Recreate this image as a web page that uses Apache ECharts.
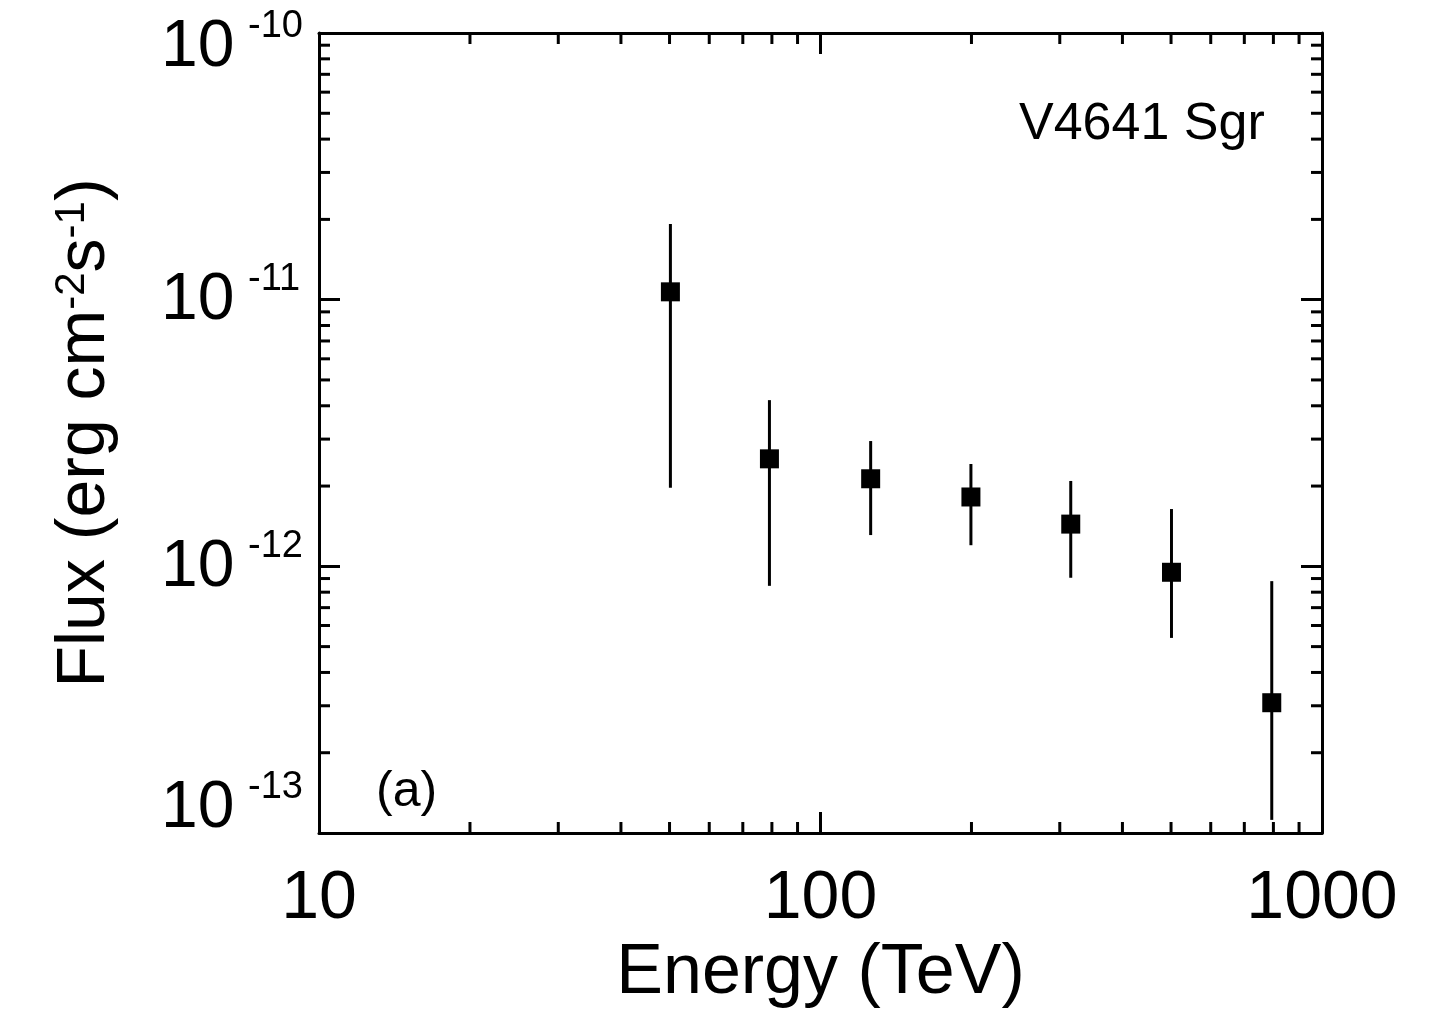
<!DOCTYPE html>
<html>
<head>
<meta charset="utf-8">
<script src="https://cdn.jsdelivr.net/npm/echarts@6/dist/echarts.min.js"></script>
<style>
  html, body { margin: 0; padding: 0; background: #fff; }
  #chart { width: 1450px; height: 1014px; }
</style>
</head>
<body>
<div id="chart"></div>
<script>
// V4641 Sgr spectrum points (energy in TeV, flux in erg cm^-2 s^-1)
var energy   = [50.2, 79.1, 125.9, 199.5, 315.5, 501, 794];
var flux     = [1.07e-11, 2.53e-12, 2.13e-12, 1.82e-12, 1.44e-12, 9.5e-13, 3.08e-13];
var fluxHigh = [1.92e-11, 4.2e-12, 2.95e-12, 2.42e-12, 2.09e-12, 1.64e-12, 8.8e-13];
var fluxLow  = [1.97e-12, 8.45e-13, 1.31e-12, 1.20e-12, 9.06e-13, 5.39e-13, 1.12e-13];

// y tick labels: 10^exp
var yTickValues = [1e-13, 1e-12, 1e-11, 1e-10];
var yTickExp    = ['-13', '-12', '-11', '-10'];

var xMin = 10, xMax = 1000;
var yMin = 1e-13, yMax = 1e-10;
var FONT = "'Liberation Sans', Arial, Helvetica, sans-serif";

// minor tick positions (2..9 x each decade)
var xMinor = [];
for (var d = 10; d < xMax; d *= 10) {
    for (var k = 2; k <= 9; k++) xMinor.push([k * d, yMin]);
}
var yMinor = [];
for (var e = -13; e < -10; e++) {
    for (var k2 = 2; k2 <= 9; k2++) yMinor.push([xMin, k2 * Math.pow(10, e)]);
}

var points = [];
var bars = [];
for (var i = 0; i < energy.length; i++) {
    points.push([energy[i], flux[i]]);
    bars.push([energy[i], fluxLow[i], fluxHigh[i]]);
}
var yLabels = [];
for (var j = 0; j < yTickValues.length; j++) {
    yLabels.push([xMin, yTickValues[j], j]);
}

var chart = echarts.init(document.getElementById('chart'));

var axisLine = { show: true, lineStyle: { color: '#000', width: 3 } };
var majorTick = { show: true, inside: true, length: 21, lineStyle: { color: '#000', width: 3 } };

var option = {
    animation: false,
    backgroundColor: '#fff',
    grid: { left: 319, right: 128, top: 33, bottom: 181, containLabel: false, outerBoundsMode: 'none' },
    xAxis: [{
        type: 'log',
        logBase: 10,
        min: xMin,
        max: xMax,
        position: 'bottom',
        axisLine: axisLine,
        axisTick: majorTick,
        splitLine: { show: false },
        axisLabel: {
            margin: 32,
            fontFamily: FONT,
            fontSize: 68,
            color: '#000',
            formatter: function (v) { return String(Math.round(v)); }
        },
        name: 'Energy (TeV)',
        nameLocation: 'middle',
        nameGap: 106,
        nameTextStyle: { fontFamily: FONT, fontSize: 70, color: '#000' }
    }, {
        type: 'log',
        logBase: 10,
        min: xMin,
        max: xMax,
        position: 'top',
        axisLine: axisLine,
        axisTick: majorTick,
        axisLabel: { show: false },
        splitLine: { show: false }
    }],
    yAxis: [{
        type: 'log',
        logBase: 10,
        min: yMin,
        max: yMax,
        position: 'left',
        axisLine: axisLine,
        axisTick: majorTick,
        splitLine: { show: false },
        axisLabel: { show: false },
        name: '{n|Flux (erg cm}{s|-2}{n|s}{s|-1}{n|)}',
        nameLocation: 'middle',
        nameRotate: 90,
        nameGap: 200,
        nameTextStyle: {
            rich: {
                n: { fontFamily: FONT, fontSize: 68, lineHeight: 68, color: '#000', verticalAlign: 'bottom' },
                s: { fontFamily: FONT, fontSize: 42, lineHeight: 42, color: '#000', verticalAlign: 'top', padding: [0, 0, 32, 0] }
            }
        }
    }, {
        type: 'log',
        logBase: 10,
        min: yMin,
        max: yMax,
        position: 'right',
        axisLine: axisLine,
        axisTick: majorTick,
        axisLabel: { show: false },
        splitLine: { show: false }
    }],
    graphic: [{
        type: 'text',
        left: 1019,
        top: 99,
        style: { text: 'V4641 Sgr', font: '52px ' + FONT, fill: '#000' }
    }, {
        type: 'text',
        left: 376,
        top: 767,
        style: { text: '(a)', font: '50px ' + FONT, fill: '#000' }
    }],
    series: [{
        // y tick labels as 10 with superscript exponent
        type: 'custom',
        silent: true,
        clip: false,
        data: yLabels,
        renderItem: function (params, api) {
            var p = api.coord([xMin, api.value(1)]);
            var idx = api.value(2);
            var dy = 1;
            if (idx === yTickValues.length - 1) dy = 15;   // top label pushed inside
            if (idx === 0) dy = -24;                      // bottom label pushed inside
            var cy = p[1] + dy;
            return { type: 'group', children: [{
                type: 'text',
                x: p[0] - 158,
                y: cy,
                style: { text: '10', font: '66px ' + FONT, fill: '#000', align: 'left', verticalAlign: 'middle' }
            }, {
                type: 'text',
                x: p[0] - 71,
                y: cy - 21,
                style: { text: yTickExp[idx], font: '38px ' + FONT, fill: '#000', align: 'left', verticalAlign: 'middle' }
            }] };
        }
    }, {
        // x minor ticks, bottom and top
        type: 'custom',
        silent: true,
        data: xMinor,
        renderItem: function (params, api) {
            var b = api.coord([api.value(0), yMin]);
            var t = api.coord([api.value(0), yMax]);
            var st = { stroke: '#000', lineWidth: 3 };
            return { type: 'group', children: [
                { type: 'line', shape: { x1: b[0], y1: b[1], x2: b[0], y2: b[1] - 11 }, style: st },
                { type: 'line', shape: { x1: t[0], y1: t[1], x2: t[0], y2: t[1] + 11 }, style: st }
            ] };
        }
    }, {
        // y minor ticks, left and right
        type: 'custom',
        silent: true,
        data: yMinor,
        renderItem: function (params, api) {
            var l = api.coord([xMin, api.value(1)]);
            var r = api.coord([xMax, api.value(1)]);
            var st = { stroke: '#000', lineWidth: 3 };
            return { type: 'group', children: [
                { type: 'line', shape: { x1: l[0], y1: l[1], x2: l[0] + 11, y2: l[1] }, style: st },
                { type: 'line', shape: { x1: r[0], y1: r[1], x2: r[0] - 11, y2: r[1] }, style: st }
            ] };
        }
    }, {
        // error bars
        type: 'custom',
        silent: true,
        data: bars,
        renderItem: function (params, api) {
            var lo = api.coord([api.value(0), api.value(1)]);
            var hi = api.coord([api.value(0), api.value(2)]);
            return {
                type: 'line',
                shape: { x1: lo[0], y1: lo[1], x2: hi[0], y2: hi[1] },
                style: { stroke: '#000', lineWidth: 3 }
            };
        }
    }, {
        type: 'scatter',
        data: points,
        symbol: 'rect',
        symbolSize: 19,
        itemStyle: { color: '#000', opacity: 1 },
        z: 5
    }]
};

chart.setOption(option);
</script>
</body>
</html>
